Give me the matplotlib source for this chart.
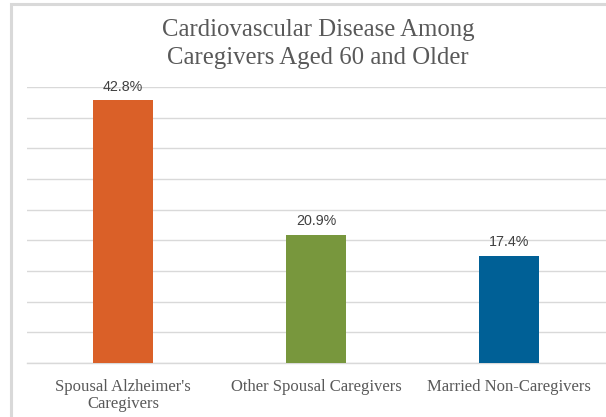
import matplotlib
matplotlib.use("Agg")
import matplotlib.pyplot as plt
from matplotlib.patches import Rectangle

categories = ["Spousal Alzheimer's\nCaregivers", "Other Spousal Caregivers", "Married Non-Caregivers"]
values = [42.8, 20.9, 17.4]
labels = ["42.8%", "20.9%", "17.4%"]
colors = ["#DA6028", "#78973D", "#006096"]
title = "Cardiovascular Disease Among\nCaregivers Aged 60 and Older"

fig = plt.figure(figsize=(6.06, 4.17), dpi=100)
fig.patch.set_facecolor("white")
ax = fig.add_axes([26.5/606, 1-363/417, (605.5-26.5)/606, (363-87)/417])

x = range(len(values))
ax.bar(x, values, width=0.316, color=colors, zorder=3)
ax.set_xlim(-0.5, 2.5)
ax.set_ylim(0, 45)
ax.set_yticks([i*5 for i in range(10)])
ax.yaxis.grid(True, color="#d9d9d9", linewidth=1.0, zorder=0)
ax.tick_params(axis="y", left=False, labelleft=False)
ax.tick_params(axis="x", bottom=False, pad=8)
ax.set_xticks(list(x))
ax.set_xticklabels(categories, fontfamily="Liberation Serif", fontsize=12, color="#595959", linespacing=1.1)
for s in ["top", "right", "left"]:
    ax.spines[s].set_visible(False)
ax.spines["bottom"].set_color("#d9d9d9")
ax.spines["bottom"].set_linewidth(1.0)
ax.set_facecolor("none")

for xi, v, lab in zip(x, values, labels):
    ax.annotate(lab, (xi, v), xytext=(0, 5), textcoords="offset points", ha="center", va="bottom",
                fontfamily="Liberation Sans", fontsize=10.3, color="#404040")

fig.text(318/606, 1-44/417, title, ha="center", va="center", fontfamily="Liberation Serif",
         fontsize=17.8, color="#595959", linespacing=1.35)

fig.patches.append(Rectangle((11/606, -0.2), 1.5, 1.2 - 4/417, transform=fig.transFigure,
                             fill=False, edgecolor="#d9d9d9", linewidth=2.2))

fig.savefig("out.png", dpi=100)
